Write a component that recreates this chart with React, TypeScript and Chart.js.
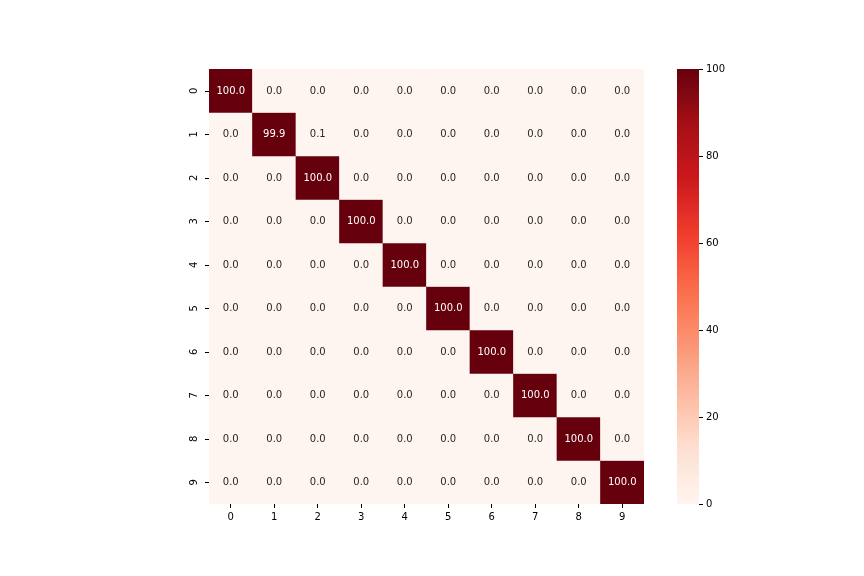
import React, { useEffect, useRef } from "react";
import { Chart, registerables } from "chart.js";

Chart.register(...registerables);

const classLabels = ["0", "1", "2", "3", "4", "5", "6", "7", "8", "9"];
const row0 = [100.0, 0.0, 0.0, 0.0, 0.0, 0.0, 0.0, 0.0, 0.0, 0.0];
const row1 = [0.0, 99.9, 0.1, 0.0, 0.0, 0.0, 0.0, 0.0, 0.0, 0.0];
const row2 = [0.0, 0.0, 100.0, 0.0, 0.0, 0.0, 0.0, 0.0, 0.0, 0.0];
const row3 = [0.0, 0.0, 0.0, 100.0, 0.0, 0.0, 0.0, 0.0, 0.0, 0.0];
const row4 = [0.0, 0.0, 0.0, 0.0, 100.0, 0.0, 0.0, 0.0, 0.0, 0.0];
const row5 = [0.0, 0.0, 0.0, 0.0, 0.0, 100.0, 0.0, 0.0, 0.0, 0.0];
const row6 = [0.0, 0.0, 0.0, 0.0, 0.0, 0.0, 100.0, 0.0, 0.0, 0.0];
const row7 = [0.0, 0.0, 0.0, 0.0, 0.0, 0.0, 0.0, 100.0, 0.0, 0.0];
const row8 = [0.0, 0.0, 0.0, 0.0, 0.0, 0.0, 0.0, 0.0, 100.0, 0.0];
const row9 = [0.0, 0.0, 0.0, 0.0, 0.0, 0.0, 0.0, 0.0, 0.0, 100.0];
const matrix = [row0, row1, row2, row3, row4, row5, row6, row7, row8, row9];
const colorbarTicks = [0, 20, 40, 60, 80, 100];
const vmin = 0;
const vmax = 100;

const REDS = ["#fff5f0", "#fee0d2", "#fcbba1", "#fc9272", "#fb6a4a", "#ef3b2c", "#cb181d", "#a50f15", "#67000d"];

function hexToRgb(h: string) {
  return [parseInt(h.slice(1, 3), 16), parseInt(h.slice(3, 5), 16), parseInt(h.slice(5, 7), 16)];
}

function redsRgb(t: number) {
  t = Math.max(0, Math.min(1, t));
  const n = REDS.length - 1;
  const p = t * n;
  const i = Math.min(Math.floor(p), n - 1);
  const f = p - i;
  const a = hexToRgb(REDS[i]);
  const b = hexToRgb(REDS[i + 1]);
  return [0, 1, 2].map((k) => Math.round(a[k] + (b[k] - a[k]) * f));
}

function redsColor(v: number) {
  const c = redsRgb((v - vmin) / (vmax - vmin));
  return `rgb(${c[0]},${c[1]},${c[2]})`;
}

function textColorFor(v: number) {
  const c = redsRgb((v - vmin) / (vmax - vmin)).map((x) => {
    const s = x / 255;
    return s <= 0.03928 ? s / 12.92 : Math.pow((s + 0.055) / 1.055, 2.4);
  });
  const lum = 0.2126 * c[0] + 0.7152 * c[1] + 0.0722 * c[2];
  return lum > 0.408 ? "#262626" : "#ffffff";
}

const FONT = "'DejaVu Sans', sans-serif";

export default function App() {
  const mainRef = useRef<HTMLCanvasElement>(null);
  const cbRef = useRef<HTMLCanvasElement>(null);

  useEffect(() => {
    const annotate = {
      id: "annotate",
      afterDatasetsDraw(chart: any) {
        const ctx = chart.ctx;
        const xs = chart.scales.x;
        const ys = chart.scales.y;
        ctx.save();
        ctx.font = `10px ${FONT}`;
        ctx.textAlign = "center";
        ctx.textBaseline = "middle";
        matrix.forEach((row, i) => {
          row.forEach((v, j) => {
            ctx.fillStyle = textColorFor(v);
            ctx.fillText(v.toFixed(1), xs.getPixelForValue(j), ys.getPixelForValue(i) + 0.5);
          });
        });
        // y tick marks and rotated labels
        const left = chart.chartArea.left;
        ctx.strokeStyle = "#000";
        ctx.lineWidth = 1;
        ctx.fillStyle = "#000";
        classLabels.forEach((lab, i) => {
          const y = Math.round(ys.getPixelForValue(i)) + 0.5;
          ctx.beginPath();
          ctx.moveTo(left - 4, y);
          ctx.lineTo(left, y);
          ctx.stroke();
          ctx.save();
          ctx.translate(left - 15, ys.getPixelForValue(i));
          ctx.rotate(-Math.PI / 2);
          ctx.textAlign = "center";
          ctx.textBaseline = "middle";
          ctx.fillText(lab, 0, 0);
          ctx.restore();
        });
        ctx.restore();
      },
    };

    const main = new Chart(mainRef.current!, {
      type: "bar",
      data: {
        labels: classLabels,
        datasets: matrix.map((row, i) => ({
          label: classLabels[i],
          data: row.map(() => [i - 0.5, i + 0.5]) as any,
          backgroundColor: row.map((v) => redsColor(v)),
          borderWidth: 0,
          barPercentage: 1,
          categoryPercentage: 1,
        })),
      },
      options: {
        animation: false,
        responsive: false,
        maintainAspectRatio: false,
        layout: { padding: { left: 209, right: 220, top: 69, bottom: 0 } },
        plugins: { legend: { display: false }, tooltip: { enabled: false } },
        scales: {
          x: {
            stacked: true,
            offset: true,
            grid: { display: true, offset: false, drawOnChartArea: false, drawTicks: true, tickLength: 4, color: "#000" },
            border: { display: false },
            ticks: { color: "#000", font: { family: FONT, size: 10 }, padding: 3 },
            afterFit: (s: any) => { s.height = 72; s.paddingLeft = 0; s.paddingRight = 0; },
          },
          y: {
            display: false,
            reverse: true,
            min: -0.5,
            max: 9.5,
          },
        },
      },
      plugins: [annotate],
    });

    const cb = new Chart(cbRef.current!, {
      type: "bar",
      data: {
        labels: ["cb"],
        datasets: [
          {
            data: [[vmin, vmax]] as any,
            backgroundColor: (c: any) => {
              const area = c.chart.chartArea;
              if (!area) return REDS[4];
              const g = c.chart.ctx.createLinearGradient(0, area.bottom, 0, area.top);
              const steps = 40;
              for (let k = 0; k <= steps; k++) g.addColorStop(k / steps, redsColor(vmin + ((vmax - vmin) * k) / steps));
              return g;
            },
            borderWidth: 0,
            barPercentage: 1,
            categoryPercentage: 1,
          },
        ],
      },
      options: {
        animation: false,
        responsive: false,
        maintainAspectRatio: false,
        layout: { padding: { left: 677, right: 135, top: 69, bottom: 72 } },
        plugins: { legend: { display: false }, tooltip: { enabled: false } },
        scales: {
          x: { display: false },
          y: {
            position: "right",
            min: vmin,
            max: vmax,
            afterBuildTicks: (s: any) => { s.ticks = colorbarTicks.map((v) => ({ value: v })); },
            grid: { display: true, drawOnChartArea: false, drawTicks: true, tickLength: 4, color: "#000" },
            border: { display: false },
            ticks: { color: "#000", font: { family: FONT, size: 10 }, padding: 3 },
            afterFit: (s: any) => { s.width = 30; s.paddingTop = 0; s.paddingBottom = 0; },
          },
        },
      },
    });

    return () => {
      main.destroy();
      cb.destroy();
    };
  }, []);

  return (
    <div style={{ position: "absolute", left: 0, top: 0, width: 864, height: 576, background: "#fff" }}>
      <canvas ref={mainRef} width={864} height={576} style={{ position: "absolute", left: 0, top: 0 }} />
      <canvas ref={cbRef} width={864} height={576} style={{ position: "absolute", left: 0, top: 0 }} />
    </div>
  );
}
